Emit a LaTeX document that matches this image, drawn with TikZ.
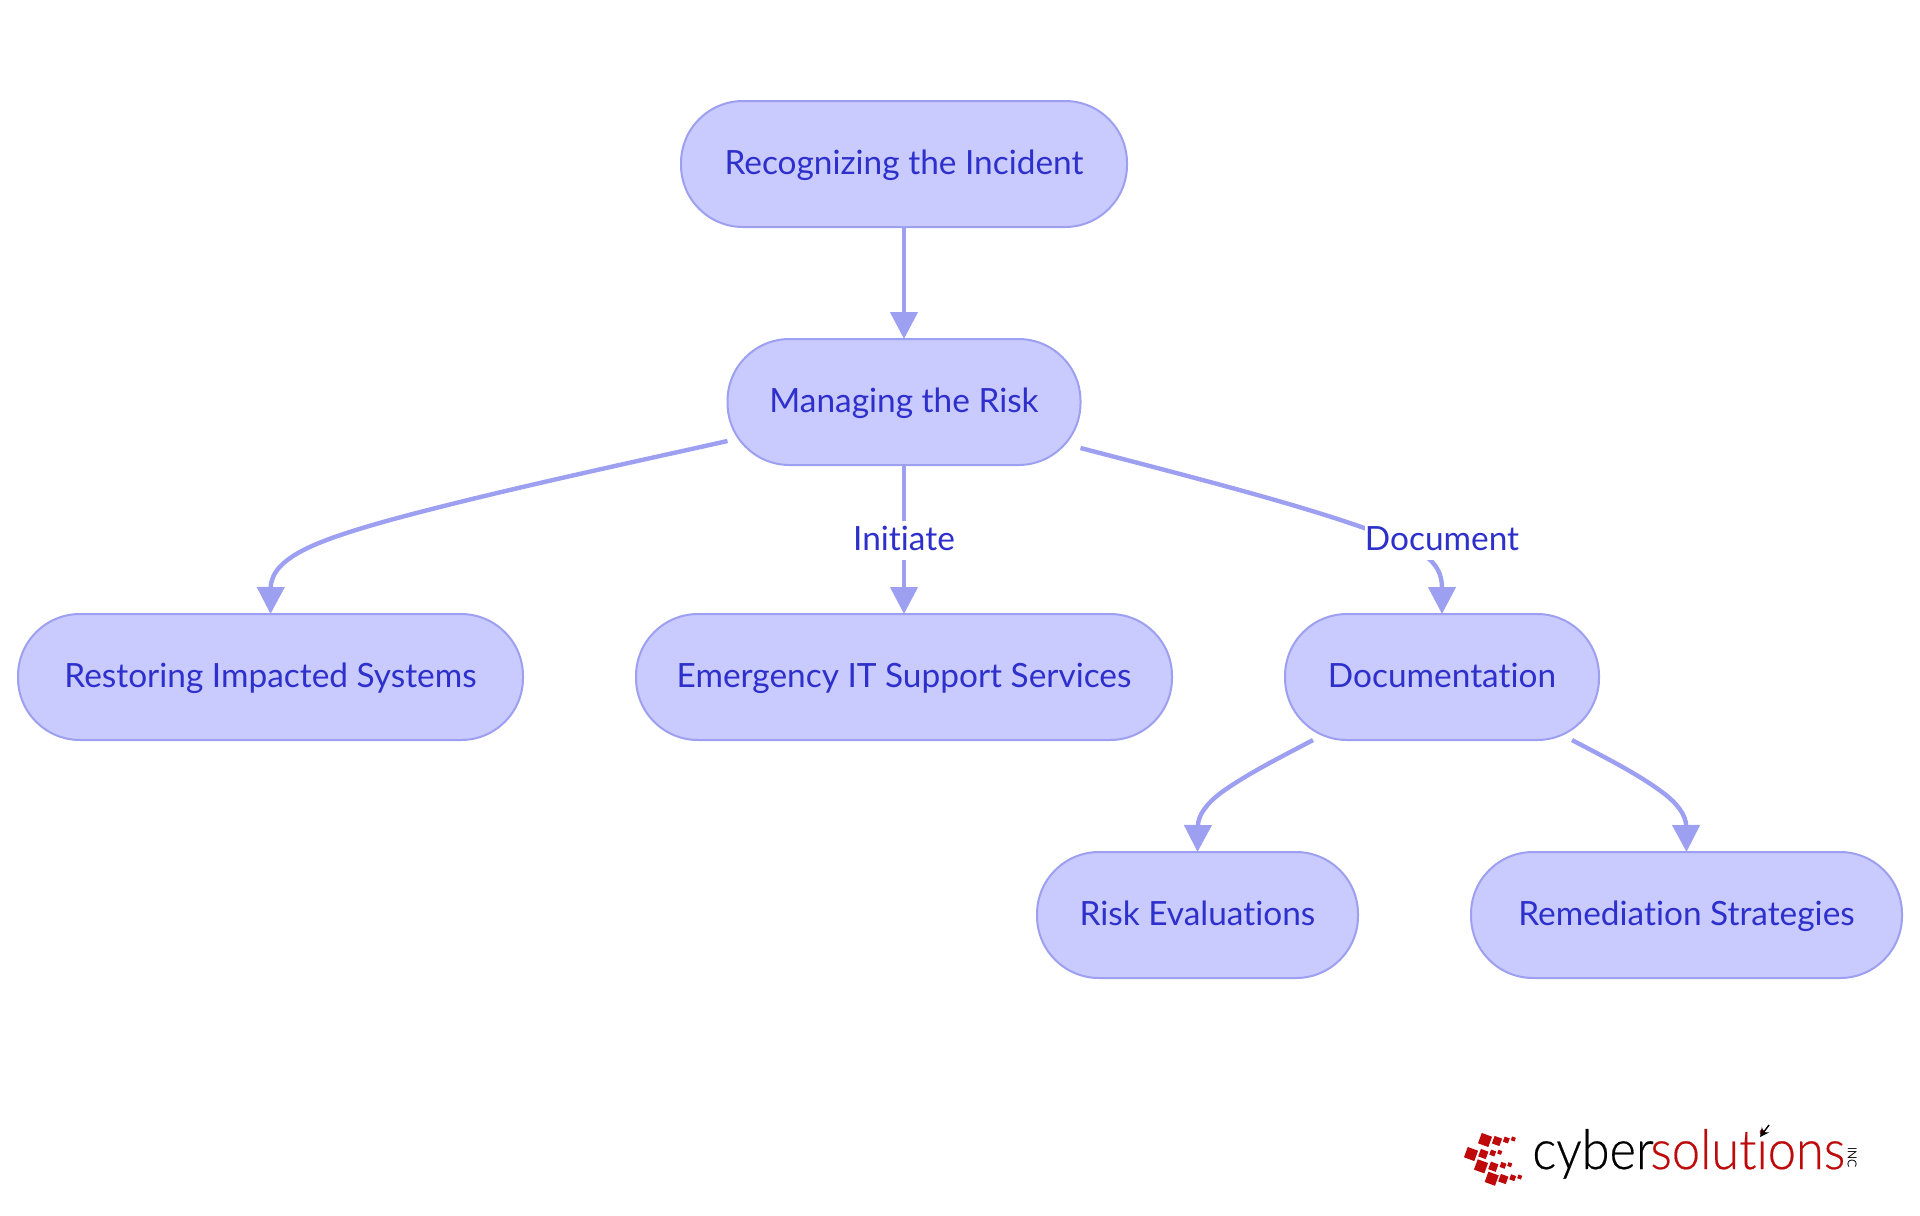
\documentclass[tikz,border=0pt]{standalone}
\usepackage{fontspec}
\setmainfont{Lato}[Ligatures=NoCommon]
\newfontfamily\logofont{Lato Light}[Ligatures=NoCommon,FakeBold=0.4]
\usetikzlibrary{arrows.meta}
\definecolor{pillfill}{HTML}{C9CAFE}
\definecolor{pillline}{HTML}{9D9FF1}
\definecolor{pilltext}{HTML}{2E30CC}
\definecolor{logored}{HTML}{BE0A0A}
\tikzset{
  pilltextstyle/.style={text=pilltext,text height=13.5pt,text depth=3pt,font=\fontsize{16.7}{20}\selectfont},
  pill/.style={pilltextstyle,draw=pillline,fill=pillfill,line width=1pt,rounded corners=31pt,minimum height=63pt,inner sep=0pt,outer sep=0pt},
  edgeline/.style={draw=pillline,line width=2.2pt,-{Triangle[length=13.5pt,width=13.5pt,fill=pillline]}},
  edgelabel/.style={pilltextstyle,fill=white,inner ysep=1.5pt,inner xsep=0pt},
  logotext/.style={inner sep=0pt,transform shape,font=\logofont\fontsize{27.5}{30}\selectfont},
}
\newcommand{\logosq}[3]{\fill[logored,shift={(#1,#2)},rotate=-20] (-#3,-#3) rectangle (#3,#3);}
\begin{document}
\begin{tikzpicture}[x=0.5pt,y=-0.5pt]
\useasboundingbox (0,0) rectangle (1920,1215);
\node[pill,minimum width=223pt] (rec) at (904,164) {Recognizing the Incident};
\node[pill,minimum width=176.5pt] (mgr) at (904,402) {Managing the Risk};
\node[pill,minimum width=252.5pt] (res) at (270.5,677) {Restoring Impacted Systems};
\node[pill,minimum width=268pt] (eit) at (904,677) {Emergency IT Support Services};
\node[pill,minimum width=157pt] (doc) at (1442,677) {Documentation};
\node[pill,minimum width=160.5pt] (rsk) at (1197.5,915) {Risk Evaluations};
\node[pill,minimum width=215.5pt] (rem) at (1686.5,915) {Remediation Strategies};

\draw[edgeline] (rec.south) -- (mgr.north);
\draw[edgeline] ([yshift=-19.5pt]mgr.west) .. controls (620,465) and (480,495) .. (383,522) .. controls (320,540) and (271,557) .. (res.north);
\draw[edgeline] (mgr.south) -- (eit.north);
\draw[edgeline] ([yshift=-23pt]mgr.east) .. controls (1200,479) and (1300,505) .. (1367,529) .. controls (1420,548) and (1442,560) .. (doc.north);
\draw[edgeline] ([xshift=-64.5pt]doc.south) .. controls (1285,755) and (1250,772) .. (1222,792) .. controls (1207,803) and (1198,815) .. (rsk.north);
\draw[edgeline] ([xshift=65pt]doc.south) .. controls (1600,755) and (1635,772) .. (1662,792) .. controls (1677,803) and (1686,815) .. (rem.north);
\node[edgelabel] (lab1) at (904,540) {Initiate};
\node[edgelabel] (lab2) at (1442,540) {Document};

% logo
\foreach \x/\y/\s in {1485/1140/5.5,1497/1141/4,1506.3/1140/2.7,1513.3/1139/2,
 1471/1154/5.5,1483.3/1154/4,1492.7/1153/2.7,1499.7/1152.3/2,
 1481/1166.3/5.5,1493.3/1166.7/4,1503/1165.3/2.7,1509.7/1164.7/2,
 1491.7/1178.7/5.5,1503.3/1179/4,1512.7/1177.7/2.7,1519.7/1177/2}{\logosq{\x}{\y}{\s}}
\node[logotext,anchor=base west,text=black,xscale=0.92] (cyb) at (1532,1169) {cyber};
\node[logotext,anchor=base west,text=logored,xscale=0.92] (sol) at (1650,1169) {solutions};
\node[inner sep=0pt,rotate=-90,font=\logofont\fontsize{6}{7}\selectfont,text=black] (inc) at (1852,1157) {INC};
\draw[black,line width=0.7pt,-{Stealth[length=4.5pt,width=4.5pt]}] (1769,1125) -- (1760,1137);
\end{tikzpicture}
\end{document}
